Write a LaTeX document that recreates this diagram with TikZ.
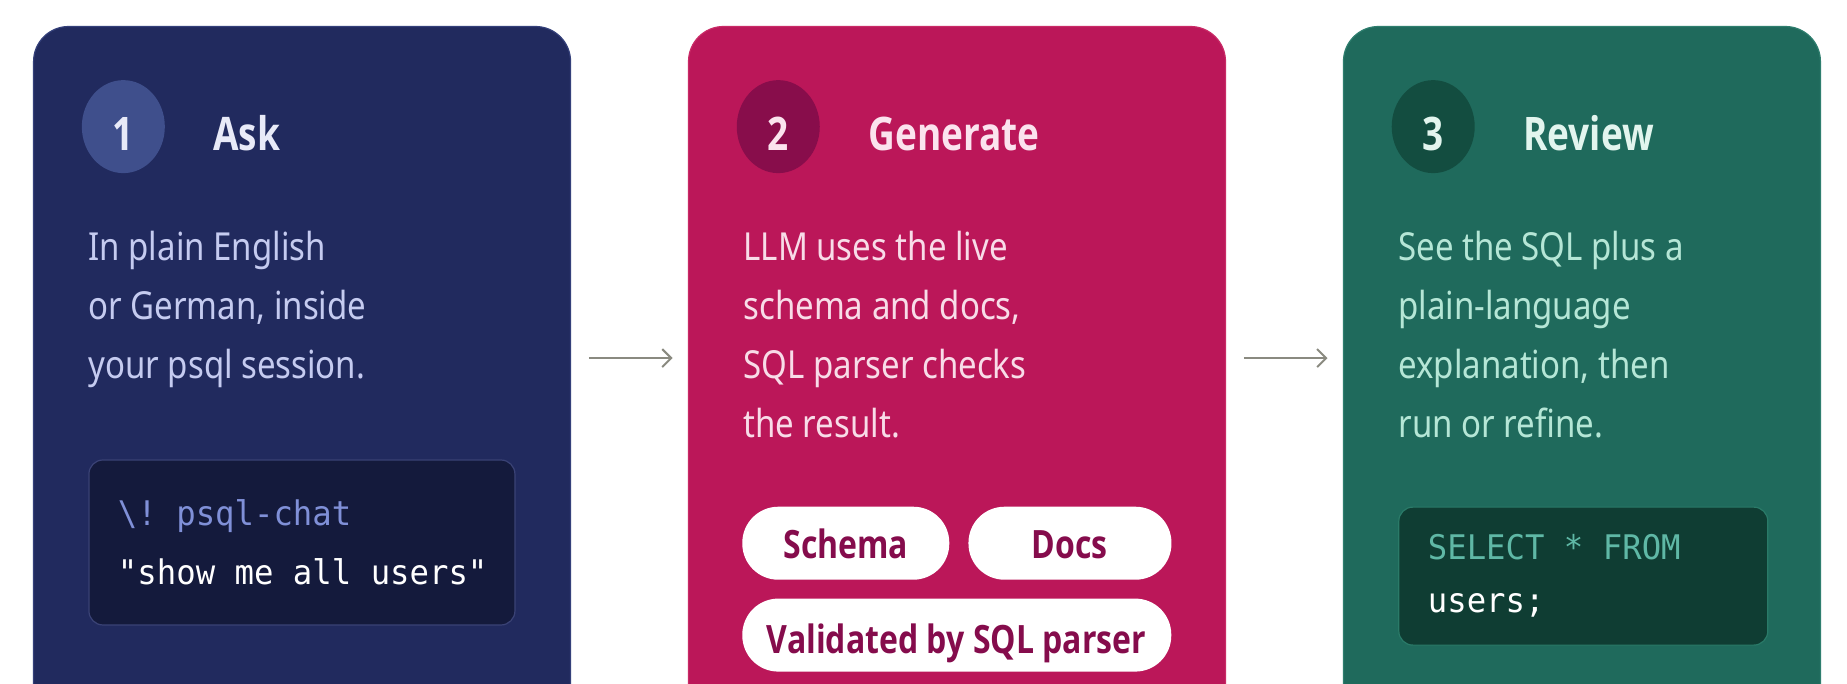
\documentclass[tikz,border=0pt]{standalone}
\usepackage{fontspec}
\setmainfont{Noto Sans}
\newfontfamily\headfont{Open Sans}
\newfontfamily\codefont{DejaVu Sans Mono}
\usetikzlibrary{arrows.meta,shapes.geometric}
\definecolor{cardA}{HTML}{212A5E}
\definecolor{cardAline}{HTML}{34407A}
\definecolor{circA}{HTML}{3F4F8C}
\definecolor{titleA}{HTML}{E8EAF8}
\definecolor{bodyA}{HTML}{C5CBF0}
\definecolor{codeA}{HTML}{141A3C}
\definecolor{codeAline}{HTML}{3A4275}
\definecolor{kwA}{HTML}{8090D8}
\definecolor{cardB}{HTML}{BB1759}
\definecolor{cardBline}{HTML}{C92A66}
\definecolor{circB}{HTML}{880D4B}
\definecolor{titleB}{HTML}{FBE3EE}
\definecolor{bodyB}{HTML}{F8DCE8}
\definecolor{pillB}{HTML}{850C4C}
\definecolor{cardC}{HTML}{1F6A5C}
\definecolor{cardCline}{HTML}{2E7E6E}
\definecolor{circC}{HTML}{134D40}
\definecolor{titleC}{HTML}{E2F5EE}
\definecolor{bodyC}{HTML}{B5E6D6}
\definecolor{codeC}{HTML}{0F3D33}
\definecolor{codeCline}{HTML}{2A7A68}
\definecolor{kwC}{HTML}{5FB8A6}
\definecolor{arrowgray}{HTML}{8A8A80}
\tikzset{
  card/.style={rectangle, rounded corners=35pt, line width=1.2pt, inner sep=0pt, minimum height=740pt, anchor=north west},
  numdisc/.style={ellipse, inner sep=0pt, minimum width=83pt, minimum height=93pt},
  numtext/.style={anchor=base, inner sep=0pt, yscale=1.25, font=\headfont\bfseries\fontsize{37}{37}\selectfont},
  titletext/.style={anchor=base west, inner sep=0pt, yscale=1.25, font=\headfont\bfseries\fontsize{37}{37}\selectfont},
  bodytext/.style={anchor=base west, inner sep=0pt, yscale=1.17, font=\fontsize{33}{33}\selectfont},
  codebox/.style={rectangle, rounded corners=14pt, line width=1.2pt, anchor=north west, inner sep=0pt},
  codetext/.style={anchor=base west, inner sep=0pt, yscale=1.05, font=\codefont\fontsize{32.3}{32.3}\selectfont},
  pill/.style={rectangle, rounded corners=36pt, fill=white, inner sep=0pt, minimum height=73pt, anchor=north west},
  pilltext/.style={anchor=base, inner sep=0pt, text=pillB, yscale=1.22, font=\headfont\bfseries\fontsize{32}{32}\selectfont},
  flow/.style={draw=arrowgray, line width=2pt, -{Straight Barb[length=9pt,width=18pt,line width=2pt]}}
}
\begin{document}
\frenchspacing
\begin{tikzpicture}[x=1.178pt,y=-1.178pt]
\useasboundingbox (0,0) rectangle (1568,580);
\fill[white] (0,0) rectangle (1568,580);
\begin{scope}
\clip (0,0) rectangle (1568,580);
% cards
\node[card, draw=cardAline, fill=cardA, minimum width=537pt] (card1) at (28,22) {};
\node[card, draw=cardBline, fill=cardB, minimum width=537pt] (card2) at (584,22) {};
\node[card, draw=cardCline, fill=cardC, minimum width=477pt] (card3) at (1140,22) {};
% step 1
\node[numdisc, fill=circA] (n1) at (104.7,107.5) {};
\node[numtext, text=titleA] (n1t) at (104.7,127.5) {1};
\node[titletext, text=titleA] (t1) at (181,127.5) {Ask};
\node[bodytext, text=bodyA] (b1a) at (75,221) {In plain English};
\node[bodytext, text=bodyA] (b1b) at (75,271) {or German, inside};
\node[bodytext, text=bodyA] (b1c) at (75,321) {your psql session.};
\node[codebox, draw=codeAline, fill=codeA, minimum width=426pt, minimum height=165pt] (c1) at (75,390) {};
\node[codetext, text=kwA] (c1a) at (100,446) {\textbackslash! psql-chat};
\node[codetext, text=white] (c1b) at (100,496) {"show me all users"};
% step 2
\node[numdisc, fill=circB] (n2) at (660.7,107.5) {};
\node[numtext, text=titleB] (n2t) at (660.7,127.5) {2};
\node[titletext, text=titleB] (t2) at (737,127.5) {Generate};
\node[bodytext, text=bodyB] (b2a) at (631,221) {LLM uses the live};
\node[bodytext, text=bodyB] (b2b) at (631,271) {schema and docs,};
\node[bodytext, text=bodyB] (b2c) at (631,321) {SQL parser checks};
\node[bodytext, text=bodyB] (b2d) at (631,371) {the result.};
\node[pill, minimum width=207pt] (p1) at (630,430) {};
\node[pill, minimum width=203pt] (p2) at (822,430) {};
\node[pill, minimum width=429pt] (p3) at (630,508) {};
\node[pilltext] (p1t) at (718,474) {Schema};
\node[pilltext] (p2t) at (908,474) {Docs};
\node[pilltext] (p3t) at (812,555) {Validated by SQL parser};
% step 3
\node[numdisc, fill=circC] (n3) at (1216.7,107.5) {};
\node[numtext, text=titleC] (n3t) at (1216.7,127.5) {3};
\node[titletext, text=titleC] (t3) at (1293,127.5) {Review};
\node[bodytext, text=bodyC] (b3a) at (1187,221) {See the SQL plus a};
\node[bodytext, text=bodyC] (b3b) at (1187,271) {plain-language};
\node[bodytext, text=bodyC] (b3c) at (1187,321) {explanation, then};
\node[bodytext, text=bodyC] (b3d) at (1187,371) {run or refine.};
\node[codebox, draw=codeCline, fill=codeC, minimum width=369pt, minimum height=138pt] (c3) at (1187,430) {};
\node[codetext, text=kwC] (c3a) at (1212,475) {SELECT * FROM};
\node[codetext, text=white] (c3b) at (1212,520) {users;};
% arrows
\coordinate (ay) at (0,304);
\draw[flow, shorten <=17.7pt, shorten >=15.3pt] (card1.north east |- ay) -- (card2.north west |- ay);
\draw[flow, shorten <=17.7pt, shorten >=15.3pt] (card2.north east |- ay) -- (card3.north west |- ay);
\end{scope}
\end{tikzpicture}
\end{document}
